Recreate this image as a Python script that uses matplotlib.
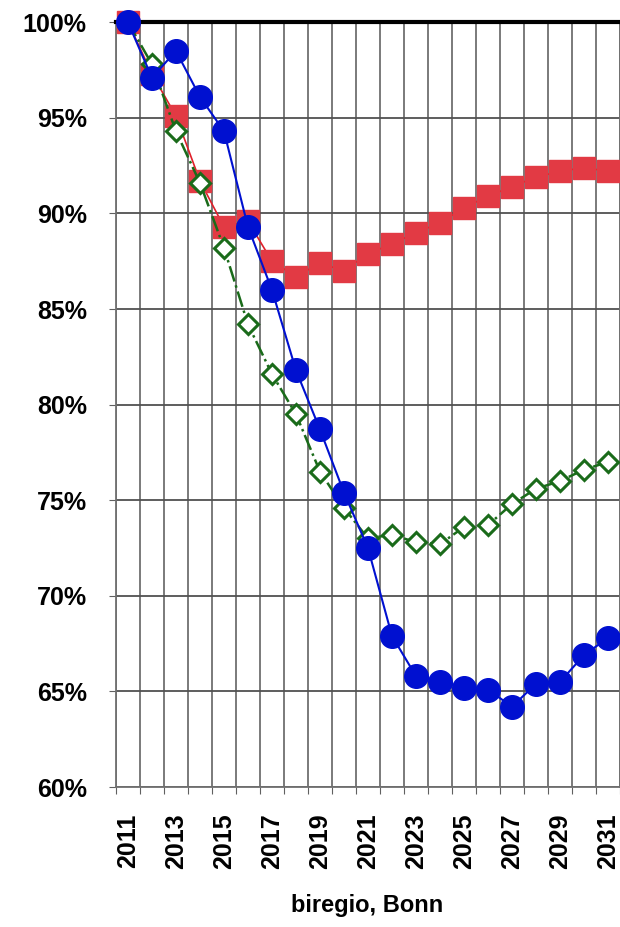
#!/usr/bin/env python3
import matplotlib
matplotlib.use('Agg')
import matplotlib.pyplot as plt
from matplotlib.ticker import FixedLocator

years = list(range(2011, 2032))
year_labels = [str(y) if (y - 2011) % 2 == 0 else '' for y in years]

red_sq = [100, 97.3, 95.1, 91.7, 89.3, 89.6, 87.5, 86.7, 87.4, 87.0, 87.9,
          88.4, 89.0, 89.5, 90.3, 90.9, 91.4, 91.9, 92.2, 92.4, 92.2]
green_dia = [100, 97.8, 94.3, 91.6, 88.2, 84.2, 81.6, 79.5, 76.5, 74.6, 73.0,
             73.2, 72.8, 72.7, 73.6, 73.7, 74.8, 75.6, 76.0, 76.6, 77.0]
blue_circ = [100, 97.1, 98.5, 96.1, 94.3, 89.3, 86.0, 81.8, 78.7, 75.4, 72.5,
             67.9, 65.8, 65.5, 65.2, 65.1, 64.2, 65.4, 65.5, 66.9, 67.8]

yticks = [60, 65, 70, 75, 80, 85, 90, 95, 100]

plt.rcParams['font.family'] = ['Liberation Sans', 'DejaVu Sans']

fig = plt.figure(figsize=(6.2, 9.27), dpi=100)
ax = fig.add_axes([0.187, 0.151, 0.813, 0.825])

x = list(range(len(years)))
ax.plot(x, red_sq, color='#e0202a', lw=1.2, marker='s', ms=16,
        mfc='#e23a44', mec='#e23a44', zorder=3, clip_on=False)
ax.plot(x, green_dia, color='#1a6b1a', lw=1.8, ls='-.', marker='D', ms=10,
        mfc='white', mec='#1a6b1a', mew=2.2, zorder=4, clip_on=False)
ax.plot(x, blue_circ, color='#0010d0', lw=1.5, marker='o', ms=17,
        mfc='#0010d0', mec='#0010d0', zorder=5, clip_on=False)

ax.set_xlim(-0.5, len(years) - 0.5)
ax.set_ylim(60, 100)

# category axis: grid lines sit between the years
ax.xaxis.set_major_locator(FixedLocator([i - 0.5 for i in range(len(years) + 1)]))
ax.xaxis.set_major_formatter(plt.NullFormatter())
ax.xaxis.set_minor_locator(FixedLocator(x))
ax.set_xticklabels(year_labels, minor=True, rotation=90, fontsize=18,
                   fontweight='bold')
ax.tick_params(axis='x', which='major', length=5, color='#606060', direction='out')
ax.tick_params(axis='x', which='minor', length=0, pad=19)

ax.set_yticks(yticks)
ax.set_yticklabels([f'{v}%' for v in yticks], fontsize=18, fontweight='bold')
ax.tick_params(axis='y', length=5, color='#606060', pad=16)

ax.grid(True, axis='x', which='major', color='#707070', lw=1.3)
ax.grid(True, axis='y', color='#505050', lw=1.3)

for s in ['left', 'bottom', 'right']:
    ax.spines[s].set_color('#707070')
    ax.spines[s].set_linewidth(1.3)
ax.spines['top'].set_color('black')
ax.spines['top'].set_linewidth(3)

fig.text(0.592, 0.023, 'biregio, Bonn', ha='center', va='center',
         fontsize=17, fontweight='bold')

fig.savefig('out.png', dpi=100)
